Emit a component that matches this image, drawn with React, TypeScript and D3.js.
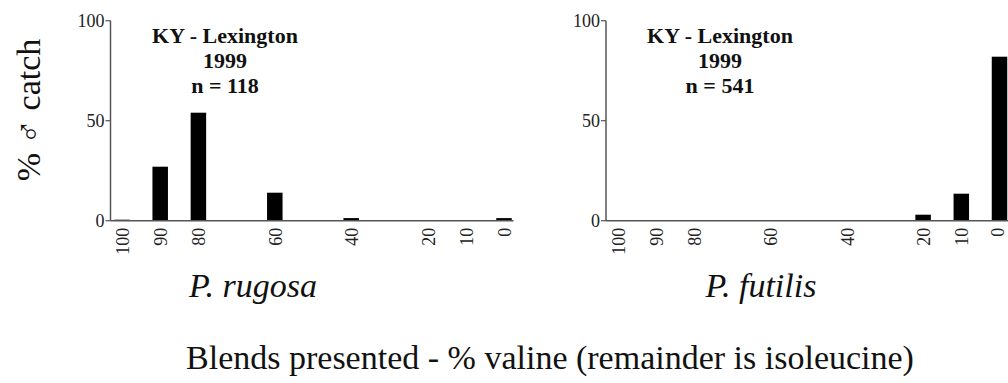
import React from "react";
import * as d3 from "d3";

const categories = [100, 90, 80, 60, 40, 20, 10, 0];
const rugosaValues = [0.5, 27, 54, 14, 1.3, 0, 0, 1.3];
const futilisValues = [0, 0, 0, 0, 0, 3, 13.5, 82];
const yTicks = [0, 50, 100];
const panelTitles = [
  ["KY - Lexington", "1999", "n = 118"],
  ["KY - Lexington", "1999", "n = 541"],
];
const speciesNames = ["P. rugosa", "P. futilis"];
const yAxisTitle = "% \u2642 catch";
const xAxisTitle = "Blends presented - % valine (remainder is isoleucine)";

const FONT = "'Liberation Serif', 'Times New Roman', Times, serif";
const AXIS_COLOR = "#555";

function Panel({ axisX, values, title, titleX, species, speciesX, clipRight }) {
  const y = d3.scaleLinear().domain([0, 100]).range([220.7, 20.7]);
  const x = d3.scaleLinear().domain([100, 0]).range([axisX + 11.5, axisX + 11.5 + 382]);
  const barW = 15.5;
  const axisEnd = Math.min(axisX + 403, clipRight);
  return (
    <g>
      {categories.map((c, i) =>
        values[i] > 0 ? (
          <rect
            key={c}
            x={x(c) - barW / 2}
            y={y(values[i])}
            width={barW}
            height={y(0) - y(values[i])}
            fill="#000"
          />
        ) : null
      )}
      <line x1={axisX} x2={axisX} y1={y(100)} y2={y(0)} stroke={AXIS_COLOR} strokeWidth={1.5} />
      <line x1={axisX} x2={axisEnd} y1={y(0)} y2={y(0)} stroke={AXIS_COLOR} strokeWidth={1.5} />
      {yTicks.map((t) => (
        <g key={t}>
          <line x1={axisX - 5} x2={axisX} y1={y(t)} y2={y(t)} stroke={AXIS_COLOR} strokeWidth={1.2} />
          <text
            x={axisX - 6}
            y={y(t)}
            textAnchor="end"
            dominantBaseline="central"
            style={{ fontFamily: FONT }}
            fontSize={18}
            fill="#222"
          >
            {t}
          </text>
        </g>
      ))}
      {categories.map((c) => (
        <text
          key={c}
          transform={`translate(${Math.min(x(c) + 1, clipRight - 10.5)},${y(0) + 7}) rotate(-90)`}
          textAnchor="end"
          dominantBaseline="central"
          style={{ fontFamily: FONT }}
          fontSize={18}
          fill="#222"
        >
          {c}
        </text>
      ))}
      {title.map((line, i) => (
        <text
          key={i}
          x={titleX}
          y={43 + i * 25}
          textAnchor="middle"
          style={{ fontFamily: FONT }}
          fontWeight="bold"
          fontSize={22}
          fill="#111"
        >
          {line}
        </text>
      ))}
      <text
        x={speciesX}
        y={297}
        textAnchor="middle"
        style={{ fontFamily: FONT }}
        fontStyle="italic"
        fontSize={34}
        fill="#111"
      >
        {species}
      </text>
    </g>
  );
}

export default function App() {
  return (
    <svg
      width={1008}
      height={383}
      style={{ position: "absolute", left: 0, top: 0, background: "#fff" }}
    >
      <rect width={1008} height={383} fill="#fff" />
      <Panel
        axisX={110.5}
        values={rugosaValues}
        title={panelTitles[0]}
        titleX={225}
        species={speciesNames[0]}
        speciesX={253}
        clipRight={1008}
      />
      <Panel
        axisX={606}
        values={futilisValues}
        title={panelTitles[1]}
        titleX={720}
        species={speciesNames[1]}
        speciesX={761}
        clipRight={1008}
      />
      <text
        transform="translate(40,110) rotate(-90)"
        textAnchor="middle"
        style={{ fontFamily: FONT }}
        fontSize={34}
        fill="#111"
      >
        {yAxisTitle}
      </text>
      <text
        x={550}
        y={369}
        textAnchor="middle"
        style={{ fontFamily: FONT }}
        fontSize={34}
        fill="#111"
      >
        {xAxisTitle}
      </text>
    </svg>
  );
}
